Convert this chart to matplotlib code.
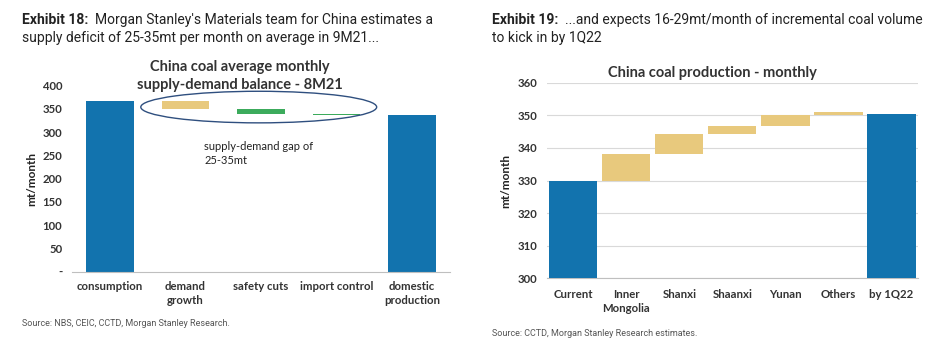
import matplotlib
matplotlib.use("Agg")
from matplotlib import pyplot as plt
from matplotlib.patches import Ellipse

# left chart: supply-demand balance, 8M21 (mt/month)
left_categories = ["consumption", "demand\ngrowth", "safety cuts", "import control", "domestic\nproduction"]
left_bottoms = [0, 349, 340, 337, 0]
left_heights = [366, 17, 9, 3, 337]
left_colors = ["#1273ae", "#e8c97d", "#3cab5c", "#3cab5c", "#1273ae"]
left_yticks = [0, 50, 100, 150, 200, 250, 300, 350, 400]
left_yticklabels = ["-", "50", "100", "150", "200", "250", "300", "350", "400"]

# right chart: coal production waterfall (mt/month)
right_categories = ["Current", "Inner\nMongolia", "Shanxi", "Shaanxi", "Yunan", "Others", "by 1Q22"]
right_bottoms = [0, 330, 338, 344.3, 346.7, 350.1, 0]
right_heights = [330, 8, 6.3, 2.4, 3.4, 1.0, 350.3]
right_colors = ["#1273ae", "#e8c97d", "#e8c97d", "#e8c97d", "#e8c97d", "#e8c97d", "#1273ae"]
right_yticks = [300, 310, 320, 330, 340, 350, 360]

W, H = 938, 351
TXT = "#333333"
CHART_FONT = ["Lato", "DejaVu Sans"]
HEAD_FONT = ["Roboto", "DejaVu Sans"]


def px_axes(fig, x0, y0, x1, y1):
    # pixel box (top-left origin) -> figure fraction
    return fig.add_axes([x0 / W, (H - y1) / H, (x1 - x0) / W, (y1 - y0) / H])


def style_axis(ax, xpad):
    for side in ["top", "right", "left"]:
        ax.spines[side].set_visible(False)
    ax.spines["bottom"].set_color("#bfbfbf")
    ax.tick_params(length=0, colors=TXT)
    ax.tick_params(axis="x", pad=xpad)
    ax.tick_params(axis="y", pad=7)
    for lab in ax.get_xticklabels() + ax.get_yticklabels():
        lab.set_fontfamily(CHART_FONT)
        lab.set_fontweight("bold")
        lab.set_fontsize(8.2)
        lab.set_color(TXT)


fig = plt.figure(figsize=(W / 100, H / 100), dpi=100)

# ---- headers ----
for x, num, rest in [(22, "Exhibit 18:", "  Morgan Stanley's Materials team for China estimates a\nsupply deficit of 25-35mt per month on average in 9M21..."),
                     (492, "Exhibit 19:", "  ...and expects 16-29mt/month of incremental coal volume\nto kick in by 1Q22")]:
    t = fig.text(x / W, 1 - 13 / H, num, fontsize=10, fontweight="bold", family=HEAD_FONT,
                 color="#222222", va="top")
    fig.canvas.draw()
    bb = t.get_window_extent()
    lines = rest.split("\n")
    fig.text(bb.x1 / W, 1 - 13 / H, lines[0], fontsize=10, family=HEAD_FONT, color="#222222", va="top")
    fig.text(x / W, 1 - 31 / H, lines[1], fontsize=10, family=HEAD_FONT, color="#222222", va="top")

# ---- left chart ----
ax1 = px_axes(fig, 72, 85.7, 450, 271.5)
xs = range(len(left_categories))
ax1.bar(xs, left_heights, bottom=left_bottoms, color=left_colors, width=0.63)
ax1.set_xlim(-0.5, len(left_categories) - 0.5)
ax1.set_ylim(0, 400)
ax1.set_yticks(left_yticks)
ax1.set_yticklabels(left_yticklabels)
ax1.set_xticks(list(xs))
ax1.set_xticklabels(left_categories, linespacing=1.3)
style_axis(ax1, 7)
ax1.set_ylabel("mt/month", fontsize=8.5, fontweight="bold", family=CHART_FONT, color="#222222", labelpad=4)
ax1.add_patch(Ellipse((1.97, 354), 3.12, 68, fill=False, edgecolor="#2f4f7f", lw=1.0, clip_on=False))
ax1.text(1.25, 281, "supply-demand gap of\n25-35mt", fontsize=8, family=CHART_FONT, color="#222222",
         va="top", linespacing=1.3)
fig.text(240 / W, 1 - 60 / H, "China coal average monthly\nsupply-demand balance - 8M21", ha="center", va="top",
         fontsize=10.5, fontweight="bold", family=CHART_FONT, color="#333333", linespacing=1.35)
fig.text(22 / W, 1 - 324 / H, "Source: NBS, CEIC, CCTD, Morgan Stanley Research.", fontsize=6.5,
         family=HEAD_FONT, color="#555555", va="center")

# ---- right chart ----
ax2 = px_axes(fig, 546.7, 82.7, 918, 278.3)
xs2 = range(len(right_categories))
ax2.bar(xs2, right_heights, bottom=right_bottoms, color=right_colors, width=0.91, zorder=3)
ax2.set_xlim(-0.5, len(right_categories) - 0.5)
ax2.set_ylim(300, 360)
ax2.set_yticks(right_yticks)
ax2.set_xticks(list(xs2))
ax2.set_xticklabels(right_categories, linespacing=1.3)
ax2.grid(axis="y", color="#d9d9d9", lw=0.8, zorder=0)
style_axis(ax2, 8)
ax2.set_ylabel("mt/month", fontsize=8.5, fontweight="bold", family=CHART_FONT, color="#222222", labelpad=4)
fig.text(712 / W, 1 - 66 / H, "China coal production - monthly", ha="center", va="top",
         fontsize=10.5, fontweight="bold", family=CHART_FONT, color="#333333")
fig.text(492 / W, 1 - 333 / H, "Source: CCTD, Morgan Stanley Research estimates.", fontsize=6.5,
         family=HEAD_FONT, color="#555555", va="center")

fig.savefig("out.png", dpi=100)
